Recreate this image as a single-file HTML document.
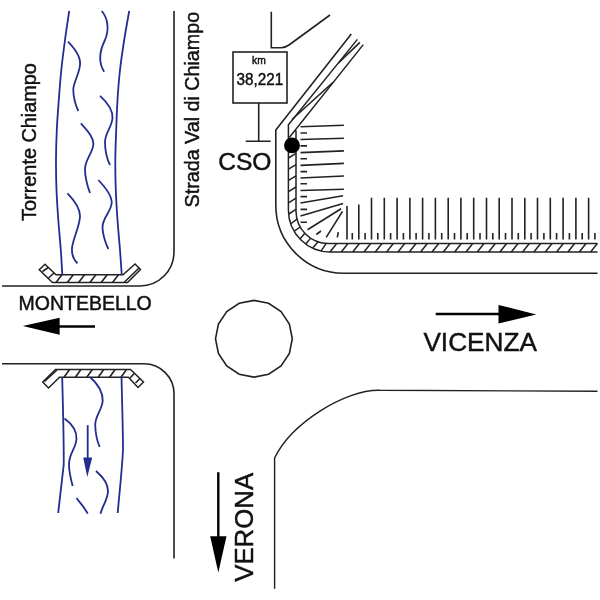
<!DOCTYPE html>
<html><head><meta charset="utf-8"><style>html,body{margin:0;padding:0;background:#fff;}svg{display:block;will-change:transform;}</style></head>
<body><svg width="600" height="600" viewBox="0 0 600 600">
<rect width="600" height="600" fill="#fff"/>
<path d="M174,11 V252 A34,34 0 0 1 140,286 H2" stroke="#222" stroke-width="1.6" fill="none"/>
<path d="M2,363.8 H144 A30,30 0 0 1 174,394 V558.5" stroke="#222" stroke-width="1.6" fill="none"/>
<path d="M271.3,11.7 V47.7 H281.3 Q285.5,47.5 289,45 L330,15" stroke="#222" stroke-width="1.6" fill="none"/>
<path d="M274.6,588.8 V458 C291.1,423.5 345,389.3 380,390.3 L597.5,391.3" stroke="#222" stroke-width="1.45" fill="none"/>
<polygon points="292.30,338.75 289.38,353.45 281.05,365.90 268.60,374.23 253.90,377.15 239.20,374.23 226.75,365.90 218.42,353.45 215.50,338.75 218.42,324.05 226.75,311.60 239.20,303.27 253.90,300.35 268.60,303.27 281.05,311.60 289.38,324.05" stroke="#222" stroke-width="1.6" fill="none"/>
<rect x="233" y="52" width="54" height="51" stroke="#222" stroke-width="1.6" fill="none"/>
<path d="M258.7,103 V141.3 M245.7,141.3 H270.7" stroke="#222" stroke-width="1.6" fill="none"/>
<path d="M351.3,34.1 L275.8,130 V205.3 A68,68 0 0 0 343.8,273.3 H597.5" stroke="#222" stroke-width="1.6" fill="none"/>
<path d="M357.4,39.4 L288.4,124.7 V210 A42,42 0 0 0 330.4,252 H597.5" stroke="#222" stroke-width="1.5" fill="none"/>
<path d="M363.3,44.6 L289.3,137.5 M296,130.5 V211 A32.5,32.5 0 0 0 328.5,243.5 H597.5" stroke="#222" stroke-width="1.5" fill="none"/>
<path d="M359.9,42.4 L338.5,63 M332.8,82.5 L292,119.5" stroke="#222" stroke-width="1.6" fill="none"/>
<path d="M288.50,146.8 L296,142.2 M288.50,158.0 L296,153.4 M288.50,169.2 L296,164.6 M288.50,180.4 L296,175.8 M288.50,191.6 L296,187.0 M288.50,202.8 L296,198.2 M288.69,214.0 L296,209.4 M290.81,223.74 L297.01,219.03 M294.24,231.19 L300.21,227.00 M300.03,238.91 L304.81,233.25 M305.81,243.98 L310.61,238.13 M312.82,248.10 L318.08,241.78 M321.12,250.94 L326.23,243.42 M330.0,252 L336.7,243.5 M341.3,252 L348.0,243.5 M352.7,252 L359.4,243.5 M364.0,252 L370.7,243.5 M375.3,252 L382.0,243.5 M386.6,252 L393.3,243.5 M398.0,252 L404.7,243.5 M409.3,252 L416.0,243.5 M420.6,252 L427.3,243.5 M432.0,252 L438.7,243.5 M443.3,252 L450.0,243.5 M454.6,252 L461.3,243.5 M466.0,252 L472.7,243.5 M477.3,252 L484.0,243.5 M488.6,252 L495.3,243.5 M499.9,252 L506.6,243.5 M511.3,252 L518.0,243.5 M522.6,252 L529.3,243.5 M533.9,252 L540.6,243.5 M545.3,252 L552.0,243.5 M556.6,252 L563.3,243.5 M567.9,252 L574.6,243.5 M579.3,252 L586.0,243.5 M590.6,252 L597.3,243.5" stroke="#222" stroke-width="1.5" fill="none"/>
<circle cx="292" cy="145.4" r="7.9" fill="#000"/>
<path d="M300.5,126.7 L343.9,125.3 M300.5,139.5 L343.9,138.3 M300.5,152.6 L343.9,150.9 M300.5,165.4 L343.9,163.4 M300.5,178.0 L343.9,176.0 M300.5,190.5 L343.9,189.2 M300.5,203.0 L343.1,195.8 M300.5,216.0 L343.1,203.4 M307.5,229.8 L341.1,208.8 M326.2,237.4 L342.5,211.4 M300.5,133 H307 M300.5,145.9 H307 M300.5,158.8 H307 M300.5,171.6 H307 M300.5,183.75 H307 M300.5,196.6 H307 M300.5,209.4 H307 M300.5,222.3 H307 M316.3,234.5 L321,231 M337.3,237.4 L338.3,232.2 M347.0,206 V239.5 M352.3,233 V239.5 M358.8,204.4 V239.5 M365.1,233 V239.5 M371.5,197.7 V239.5 M377.8,233 V239.5 M384.3,197.7 V239.5 M390.6,233 V239.5 M397.1,197.7 V239.5 M403.4,233 V239.5 M409.9,197.7 V239.5 M416.1,233 V239.5 M422.6,197.7 V239.5 M428.9,233 V239.5 M435.4,197.7 V239.5 M441.7,233 V239.5 M448.2,197.7 V239.5 M454.5,233 V239.5 M460.9,197.7 V239.5 M467.2,233 V239.5 M473.7,197.7 V239.5 M480.0,233 V239.5 M486.5,197.7 V239.5 M492.8,233 V239.5 M499.2,197.7 V239.5 M505.5,233 V239.5 M512.0,197.7 V239.5 M518.3,233 V239.5 M524.8,197.7 V239.5 M531.1,233 V239.5 M537.5,197.7 V239.5 M543.9,233 V239.5 M550.3,197.7 V239.5 M556.6,233 V239.5 M563.1,197.7 V239.5 M569.4,233 V239.5 M575.9,197.7 V239.5 M582.2,233 V239.5 M588.6,197.7 V239.5 M594.9,233 V239.5" stroke="#222" stroke-width="1.6" fill="none"/>
<path d="M56,274.75 H123 L135,264 L140.5,269.5 L127.5,282.5 H52.5 L39.25,269.75 L45,264.25 Z" stroke="#222" stroke-width="1.5" fill="#fff" stroke-linejoin="miter"/>
<path d="M56.0,282.5 L62.0,274.75 M67.3,282.5 L73.3,274.75 M78.6,282.5 L84.6,274.75 M89.9,282.5 L95.9,274.75 M101.2,282.5 L107.2,274.75 M112.5,282.5 L118.5,274.75 M42.5,271.5 L48.25,267.5 M48.5,278 L54,273 M124.5,282 L139,268" stroke="#222" stroke-width="1.6" fill="none"/>
<path d="M55.5,369.5 H130.5 L143.5,382 L138,387.5 L128.5,377.3 H59.5 L48.5,388 L42.75,382 Z" stroke="#222" stroke-width="1.5" fill="#fff"/>
<path d="M64.0,377.3 L69.5,369.5 M75.4,377.3 L80.9,369.5 M86.8,377.3 L92.3,369.5 M98.2,377.3 L103.7,369.5 M109.6,377.3 L115.1,369.5 M121.0,377.3 L126.5,369.5 M44.5,381.5 L57,370 M130,378 L134.5,373.25 M135.5,383 L140,378.5" stroke="#222" stroke-width="1.6" fill="none"/>
<path d="M69.2,11 C68.50,15.83 66.32,30.17 65.00,40.00 C63.68,49.83 62.33,60.00 61.30,70.00 C60.27,80.00 59.55,90.00 58.80,100.00 C58.05,110.00 57.27,120.00 56.80,130.00 C56.33,140.00 56.05,150.00 56.00,160.00 C55.95,170.00 56.12,180.00 56.50,190.00 C56.88,200.00 57.58,210.00 58.30,220.00 C59.02,230.00 60.13,240.92 60.80,250.00 C61.47,259.08 62.05,270.42 62.30,274.50" stroke="#242c90" stroke-width="1.8" fill="none"/>
<path d="M129.2,11 C128.37,15.83 125.73,30.17 124.20,40.00 C122.67,49.83 121.12,60.00 120.00,70.00 C118.88,80.00 118.13,90.00 117.50,100.00 C116.87,110.00 116.57,120.00 116.20,130.00 C115.83,140.00 115.37,150.00 115.30,160.00 C115.23,170.00 115.43,180.00 115.80,190.00 C116.17,200.00 116.80,210.00 117.50,220.00 C118.20,230.00 119.30,240.92 120.00,250.00 C120.70,259.08 121.42,270.42 121.70,274.50" stroke="#242c90" stroke-width="1.8" fill="none"/>
<path d="M101.7,11 C107,17 110,28 105,40 C100,50 98,62 104.2,71.7" stroke="#242c90" stroke-width="1.8" fill="none"/>
<path d="M68,41.7 C76,50 81,58 80,65 C79,75 73,83 73.3,90 C73.5,100 76,106 78.3,111" stroke="#242c90" stroke-width="1.8" fill="none"/>
<path d="M100,95.8 C108,103 113,110 112.5,118 C112,127 105,133 105,142 C105,152 107,159 110,165" stroke="#242c90" stroke-width="1.8" fill="none"/>
<path d="M80.8,123.3 C88,131 94,138 93.3,145 C92.5,153 85,160 85,169 C85,178 87,185 90,193" stroke="#242c90" stroke-width="1.8" fill="none"/>
<path d="M98.3,180 C106,188 112,196 111.7,203 C111,212 102,218 102.5,228 C103,236 106,244 108.3,249" stroke="#242c90" stroke-width="1.8" fill="none"/>
<path d="M67.5,193.3 C75,201 80,208 80,216 C80,226 73,238 72,248 C71.5,255 74,260 77.5,263.3" stroke="#242c90" stroke-width="1.8" fill="none"/>
<path d="M62.2,377.6 C63,410 64,440 63.7,465 C62,480 60,497 58.2,513" stroke="#242c90" stroke-width="1.8" fill="none"/>
<path d="M121.5,376 C122,400 123,430 123,450 C122,470 119.5,492 117.7,513" stroke="#242c90" stroke-width="1.8" fill="none"/>
<path d="M90,377 C98,384 103,392 102.7,401 C102,410 95,416 95.2,425 C95.5,434 97,441 99.7,447" stroke="#242c90" stroke-width="1.8" fill="none"/>
<path d="M64.5,418.5 C72,424 77,430 76.5,439 C76,448 69,454 69,464 C69,472 71,480 72.7,486" stroke="#242c90" stroke-width="1.8" fill="none"/>
<path d="M96,471 C103,477 108,484 108,491 C108,499 102,507 100.5,513.7" stroke="#242c90" stroke-width="1.8" fill="none"/>
<path d="M76.5,498 C80,503 85,508 87.7,513.7" stroke="#242c90" stroke-width="1.8" fill="none"/>
<path d="M87.7,425.2 V458" stroke="#242c90" stroke-width="1.8" fill="none"/>
<path d="M83.2,457.5 L92.2,457.5 L87.3,477 Z" fill="#242c90"/>
<path d="M59,326.5 H95" stroke="#000" stroke-width="2.4"/>
<path d="M22.8,325.9 L59.6,317.8 L59.6,334.8 Z" fill="#000"/>
<path d="M435.7,314 H499" stroke="#000" stroke-width="2.4"/>
<path d="M536.3,314.4 L498.5,305 L498.5,323.5 Z" fill="#000"/>
<path d="M218.3,472.2 V537" stroke="#000" stroke-width="2.4"/>
<path d="M218.3,572.5 L210.2,536.3 L226.5,536.3 Z" fill="#000"/>
<text font-family="Liberation Sans" fill="#111" stroke="#111" stroke-width="0.45" font-size="20.8" transform="translate(36.4,220.9) rotate(-90) scale(0.955,1)">Torrente Chiampo</text>
<text font-family="Liberation Sans" fill="#111" stroke="#111" stroke-width="0.45" font-size="19.7" transform="translate(198.7,207.4) rotate(-90)">Strada Val di Chiampo</text>
<text font-family="Liberation Sans" fill="#111" stroke="#111" stroke-width="0.45" font-size="10.3" x="252" y="63.7">km</text>
<text font-family="Liberation Sans" fill="#111" stroke="#111" stroke-width="0.45" stroke-width="0.7" font-size="17" transform="translate(236.5,84.6) scale(0.9,1)">38,221</text>
<text font-family="Liberation Sans" fill="#111" stroke="#111" stroke-width="0.45" font-size="24.6" x="218.2" y="170.4">CSO</text>
<text font-family="Liberation Sans" fill="#111" stroke="#111" stroke-width="0.45" font-size="19.5" x="18.5" y="309.5">MONTEBELLO</text>
<text font-family="Liberation Sans" fill="#111" stroke="#111" stroke-width="0.45" font-size="26.2" x="423.4" y="351.4">VICENZA</text>
<text font-family="Liberation Sans" fill="#111" stroke="#111" stroke-width="0.45" font-size="25.8" transform="translate(253.3,581.8) rotate(-90)">VERONA</text>
</svg></body></html>
